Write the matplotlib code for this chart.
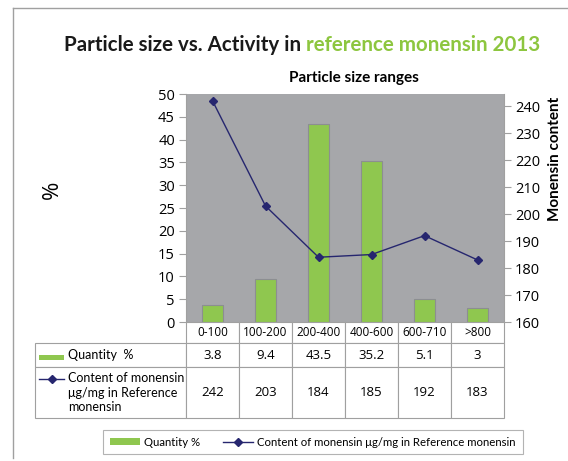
import numpy as np
import matplotlib
matplotlib.use("Agg")
import matplotlib.pyplot as plt
from matplotlib.lines import Line2D
from matplotlib.patches import Rectangle

# data
size_ranges = ["0-100", "100-200", "200-400", "400-600", "600-710", ">800"]
quantity_pct = [3.8, 9.4, 43.5, 35.2, 5.1, 3]
monensin_content = [242, 203, 184, 185, 192, 183]

qty_label = "Quantity %"
content_label = "Content of monensin \u03bcg/mg in Reference monensin"

NARROW = ["Lato", "DejaVu Sans"]
WIDE = ["Open Sans", "DejaVu Sans"]
GREEN = "#8fc74f"
NAVY = "#26266f"
GRID = "#a0a0a0"

W, H = 568, 461
plt.rcParams["font.family"] = WIDE

fig = plt.figure(figsize=(W / 100, H / 100), dpi=100)


def fx(px):
    return px / W


def fy(py):
    return 1 - py / H


ax = fig.add_axes([fx(186), fy(322), fx(504) - fx(186), fy(94) - fy(322)])
ax.set_facecolor("#a6a7aa")
x = np.arange(len(size_ranges))
ax.bar(x, quantity_pct, width=0.41, color=GREEN, edgecolor="#8c8e91", linewidth=0.8)
ax.set_xlim(-0.5, len(size_ranges) - 0.5)
ax.set_ylim(0, 50)
ax.set_yticks(range(0, 51, 5))
ax.set_xticks([])
ax.tick_params(axis="y", labelsize=10.5, length=5, color=GRID, pad=3)
for s in ["top", "bottom"]:
    ax.spines[s].set_visible(False)
ax.spines["left"].set_color(GRID)
ax.spines["right"].set_visible(False)

ax2 = ax.twinx()
ax2.plot(x, monensin_content, color=NAVY, lw=1, marker="D", markersize=4)
ax2.set_ylim(160, 244.5)
ax2.set_yticks(range(160, 241, 10))
ax2.tick_params(axis="y", labelsize=10.5, length=5, color=GRID, pad=3)
for s in ["top", "bottom", "left"]:
    ax2.spines[s].set_visible(False)
ax2.spines["right"].set_color(GRID)

# data table under the chart (bbox covers the data columns only)
cell_text = [["{:g}".format(v) for v in quantity_pct],
             ["{:g}".format(v) for v in monensin_content]]
row_labels = ["Quantity  %", "Content of monensin\n\u03bcg/mg in Reference\nmonensin"]
tbl = ax.table(cellText=cell_text, rowLabels=row_labels, colLabels=size_ranges,
               colWidths=[53] * len(size_ranges),
               cellLoc="center", rowLoc="left",
               bbox=[0, -(418 - 322) / 228, 1, (418 - 322) / 228])
tbl.auto_set_font_size(False)
tbl._autoColumns = []  # keep the row-label column at a fixed width
heights = {0: 21, 1: 24, 2: 51}
for (r, c), cell in tbl.get_celld().items():
    cell.set_edgecolor(GRID)
    cell.set_linewidth(0.8)
    cell.set_height(heights[r])
    cell.set_width(151 if c == -1 else 53)
    cell.get_text().set_fontfamily(NARROW if c == -1 else WIDE)
    cell.get_text().set_fontsize(8.5 if r == 0 else 9.5)
    if c == -1:
        cell.PAD = 0.22
        cell.get_text().set_fontsize(9)
        cell.get_text().set_linespacing(1.25)

# legend keys inside the row-label cells
fig.add_artist(Rectangle((fx(39), fy(360)), fx(64) - fx(39), fy(355) - fy(360),
                         transform=fig.transFigure, facecolor=GREEN, edgecolor="none"))
fig.add_artist(Line2D([fx(39), fx(64)], [fy(379)] * 2, transform=fig.transFigure,
                      color=NAVY, lw=1))
fig.add_artist(Line2D([fx(51.5)], [fy(379)], transform=fig.transFigure, color=NAVY,
                      marker="D", markersize=4))

# legend at the bottom
handles = [Rectangle((0, 0), 1, 1, facecolor=GREEN, edgecolor="none"),
           Line2D([], [], color=NAVY, lw=1, marker="D", markersize=4)]
leg = fig.legend(handles, [qty_label, content_label], ncol=2, loc="center",
                 bbox_to_anchor=(fx(313), fy(442)), frameon=True, fancybox=False,
                 edgecolor=GRID, prop={"family": NARROW, "size": 8.2},
                 handlelength=2.6, handleheight=0.5, columnspacing=2.0,
                 borderpad=0.6, handletextpad=0.4)
leg.get_frame().set_linewidth(0.8)

# axis labels
fig.text(fx(52), fy(190), "%", rotation=90, fontsize=16, ha="center", va="center")
fig.text(fx(555), fy(159), "Monensin content", rotation=90, fontsize=11,
         ha="center", va="center", family=NARROW, fontweight="bold")
fig.text(fx(354), fy(78), "Particle size ranges", fontsize=11, ha="center",
         va="center", family=NARROW, fontweight="bold")

# title in two colours
t1 = fig.text(fx(64), fy(51), "Particle size vs. Activity in ", fontsize=14.8,
              fontweight="bold", family=NARROW, va="baseline", color="#1a1a1a")
fig.canvas.draw()
ax.annotate("reference monensin 2013", xy=(1, 0), xycoords=t1, fontsize=14.8,
            fontweight="bold", family=NARROW, va="bottom", color="#8dc63f",
            annotation_clip=False)

# frame lines of the page
fig.add_artist(Line2D([fx(13), 1], [fy(8)] * 2, transform=fig.transFigure, color=GRID, lw=1))
fig.add_artist(Line2D([fx(13)] * 2, [fy(8), fy(458)], transform=fig.transFigure, color=GRID, lw=1))

fig.savefig("out.png", dpi=100)
